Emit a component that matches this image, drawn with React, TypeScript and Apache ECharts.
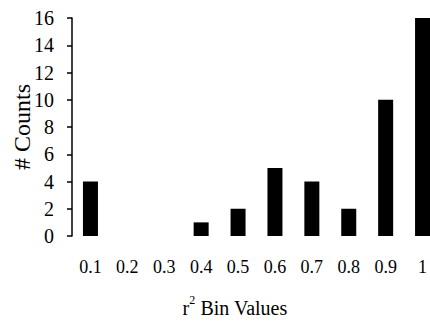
import React, { useEffect, useRef } from "react";
import * as echarts from "echarts";

const categories = ["0.1", "0.2", "0.3", "0.4", "0.5", "0.6", "0.7", "0.8", "0.9", "1"];
const counts = [4, 0, 0, 1, 2, 5, 4, 2, 10, 16];
const yTitle = "# Counts";
const xTitleBase = "r";
const xTitleSup = "2";
const xTitleRest = " Bin Values";

const FONT = "Liberation Serif";

export default function App() {
  const ref = useRef<HTMLDivElement>(null);
  useEffect(() => {
    if (!ref.current) return;
    const chart = echarts.init(ref.current, null, { renderer: "svg" });
    chart.setOption({
      animation: false,
      backgroundColor: "#ffffff",
      textStyle: { fontFamily: FONT },
      grid: { left: 72, top: 18, width: 369, height: 218, outerBoundsMode: "none", containLabel: false },
      xAxis: {
        type: "category",
        data: categories,
        axisLine: { show: false },
        axisTick: { show: false },
        axisLabel: { color: "#000", fontFamily: FONT, fontSize: 18, margin: 22 },
      },
      yAxis: {
        type: "value",
        min: 0,
        max: 16,
        interval: 2,
        splitLine: { show: false },
        axisLine: { show: true, lineStyle: { color: "#000", width: 1.5 } },
        axisTick: { show: true, length: 5, inside: false, lineStyle: { color: "#000", width: 1.5 } },
        axisLabel: { color: "#000", fontFamily: FONT, fontSize: 20, margin: 18 },
        name: yTitle,
        nameLocation: "middle",
        nameGap: 38,
        nameRotate: 90,
        nameMoveOverlap: false,
        nameTextStyle: { color: "#000", fontFamily: FONT, fontSize: 24 },
      },
      series: [
        {
          type: "bar",
          data: counts,
          barWidth: 15,
          itemStyle: { color: "#000" },
        },
      ],
      graphic: [
        {
          type: "text",
          x: 235,
          y: 306,
          style: {
            text: `{a|${xTitleBase}}{s|${xTitleSup}}{a|${xTitleRest}}`,
            align: "center",
            verticalAlign: "middle",
            rich: {
              a: { fontFamily: FONT, fontSize: 20, fill: "#000", verticalAlign: "bottom", lineHeight: 24 },
              s: { fontFamily: FONT, fontSize: 12, fill: "#000", verticalAlign: "top", lineHeight: 24 },
            },
          },
        },
      ],
    });
    return () => chart.dispose();
  }, []);
  return (
    <div
      ref={ref}
      style={{ position: "absolute", left: 0, top: 0, width: 430, height: 325 }}
    />
  );
}
